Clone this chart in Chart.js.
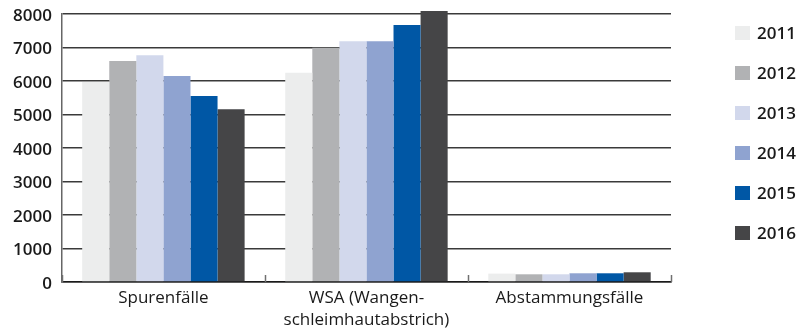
<!DOCTYPE html>
<html>
<head>
<meta charset="utf-8">
<script src="https://cdn.jsdelivr.net/npm/chart.js@4"></script>
<style>
  html, body { margin: 0; padding: 0; background: #ffffff; }
  #wrap { width: 798px; height: 329px; }
</style>
</head>
<body>
<div id="wrap"><canvas id="c" width="798" height="329"></canvas></div>
<script>
// Fallzahlen je Kategorie und Jahr
const categories = ['Spurenfälle', ['WSA (Wangen-', 'schleimhautabstrich)'], 'Abstammungsfälle'];
const years = ['2011', '2012', '2013', '2014', '2015', '2016'];
const values2011 = [5970, 6250, 250];
const values2012 = [6600, 6990, 230];
const values2013 = [6770, 7190, 230];
const values2014 = [6150, 7190, 260];
const values2015 = [5550, 7670, 260];
const values2016 = [5160, 8090, 290];
const yTicks = [0, 1000, 2000, 3000, 4000, 5000, 6000, 7000, 8000];

const seriesValues = [values2011, values2012, values2013, values2014, values2015, values2016];
const colors = ['#ECEDED', '#B1B2B4', '#D2D8EC', '#8FA3D0', '#0057A5', '#454547'];

const FONT = '"Open Sans", "Noto Sans", sans-serif';

// Small upward ticks at the category boundaries on the baseline
const categoryTicks = {
  id: 'categoryTicks',
  afterDatasetsDraw(chart) {
    const x = chart.scales.x;
    const area = chart.chartArea;
    const ctx = chart.ctx;
    ctx.save();
    ctx.strokeStyle = '#707070';
    ctx.lineWidth = 1.5;
    for (let i = 0; i <= categories.length; i++) {
      const px = Math.round(x.getPixelForValue(i - 0.5)) + 0.5;
      ctx.beginPath();
      ctx.moveTo(px, area.bottom - 7);
      ctx.lineTo(px, area.bottom);
      ctx.stroke();
    }
    ctx.restore();
  }
};

// Legend column to the right of the plot
const sideLegend = {
  id: 'sideLegend',
  afterDraw(chart) {
    const ctx = chart.ctx;
    ctx.save();
    ctx.font = '600 17px ' + FONT;
    ctx.textBaseline = 'middle';
    ctx.textAlign = 'left';
    chart.data.datasets.forEach((ds, i) => {
      const cy = 33 + i * 40;
      ctx.fillStyle = ds.backgroundColor;
      ctx.fillRect(735, cy - 7, 15, 14);
      ctx.fillStyle = '#1a1a1a';
      ctx.fillText(ds.label, 757, cy + 1);
    });
    ctx.restore();
  }
};

new Chart(document.getElementById('c'), {
  type: 'bar',
  data: {
    labels: categories,
    datasets: years.map((y, i) => ({
      label: y,
      data: seriesValues[i],
      backgroundColor: colors[i],
      borderWidth: 0,
      categoryPercentage: 0.8,
      barPercentage: 1.0,
      clip: false
    }))
  },
  options: {
    responsive: false,
    animation: false,
    events: [],
    layout: { padding: { top: 14, right: 127, bottom: 0, left: 3 } },
    plugins: {
      legend: { display: false },
      tooltip: { enabled: false },
      title: { display: false }
    },
    scales: {
      x: {
        offset: true,
        afterFit(scale) { scale.height = 47; },
        grid: { display: false, drawTicks: false },
        border: { display: true, color: '#1a1a1a', width: 1.5 },
        ticks: {
          padding: 6,
          color: '#1a1a1a',
          font: { family: FONT, size: 17, lineHeight: 1.25 },
          maxRotation: 0,
          autoSkip: false
        }
      },
      y: {
        min: 0,
        max: 8000,
        afterBuildTicks(scale) { scale.ticks = yTicks.map(v => ({ value: v })); },
        afterFit(scale) { scale.paddingTop = 0; scale.paddingBottom = 0; },
        grid: { color: '#3a3a3a', lineWidth: 1.5, drawTicks: false },
        border: { display: true, color: '#666666', width: 1.5 },
        ticks: {
          padding: 10,
          labelOffset: 2,
          color: '#1a1a1a',
          font: { family: FONT, size: 17, weight: '600' },
          callback: (v) => String(v)
        }
      }
    }
  },
  plugins: [categoryTicks, sideLegend]
});
</script>
</body>
</html>
